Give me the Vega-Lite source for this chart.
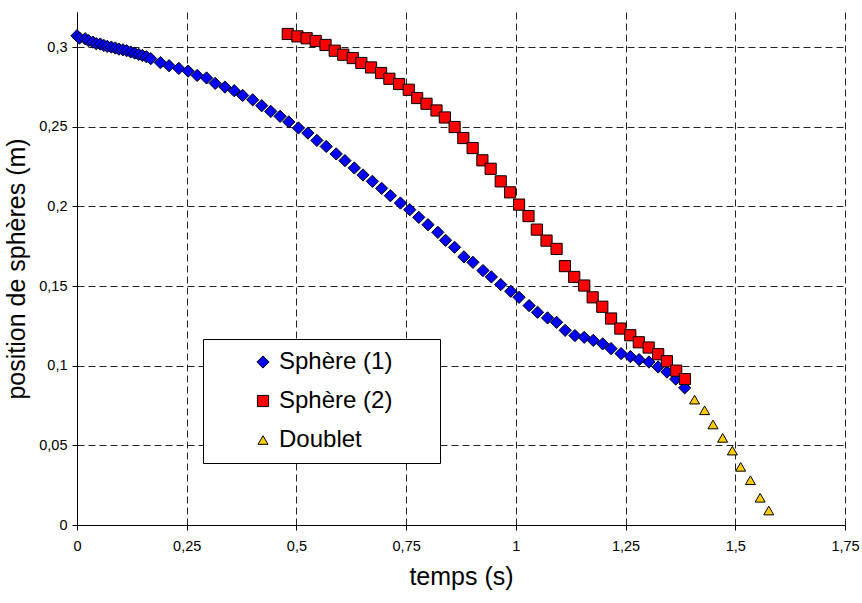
{
  "$schema": "https://vega.github.io/schema/vega-lite/v6.json",
  "autosize": {"type": "none"},
  "padding": {"left": 77, "top": 12, "right": 17, "bottom": 78},
  "width": 768,
  "height": 513,
  "background": "white",
  "config": {
    "font": "Liberation Sans",
    "view": {"stroke": null},
    "legend": {
      "labelFont": "Liberation Sans", "labelFontSize": 24, "labelColor": "black", "labelLimit": 400,
      "symbolStrokeColor": "black", "symbolStrokeWidth": 1, "symbolOpacity": 1, "symbolSize": 100
    }
  },
  "data": {
    "values": [
      {"s": "Sphère (1)", "t": 0.000, "v": 0.3071},
      {"s": "Sphère (1)", "t": 0.0057, "v": 0.3056},
      {"s": "Sphère (1)", "t": 0.0187, "v": 0.3052},
      {"s": "Sphère (1)", "t": 0.0263, "v": 0.3040},
      {"s": "Sphère (1)", "t": 0.0361, "v": 0.3031},
      {"s": "Sphère (1)", "t": 0.0439, "v": 0.3021},
      {"s": "Sphère (1)", "t": 0.0530, "v": 0.3019},
      {"s": "Sphère (1)", "t": 0.0612, "v": 0.3010},
      {"s": "Sphère (1)", "t": 0.0690, "v": 0.3004},
      {"s": "Sphère (1)", "t": 0.0782, "v": 0.3000},
      {"s": "Sphère (1)", "t": 0.0873, "v": 0.2994},
      {"s": "Sphère (1)", "t": 0.0955, "v": 0.2987},
      {"s": "Sphère (1)", "t": 0.1047, "v": 0.2983},
      {"s": "Sphère (1)", "t": 0.1131, "v": 0.2977},
      {"s": "Sphère (1)", "t": 0.1223, "v": 0.2969},
      {"s": "Sphère (1)", "t": 0.1314, "v": 0.2962},
      {"s": "Sphère (1)", "t": 0.1405, "v": 0.2954},
      {"s": "Sphère (1)", "t": 0.1490, "v": 0.2947},
      {"s": "Sphère (1)", "t": 0.1581, "v": 0.2939},
      {"s": "Sphère (1)", "t": 0.1680, "v": 0.2927},
      {"s": "Sphère (1)", "t": 0.1901, "v": 0.2902},
      {"s": "Sphère (1)", "t": 0.2098, "v": 0.2883},
      {"s": "Sphère (1)", "t": 0.2319, "v": 0.2866},
      {"s": "Sphère (1)", "t": 0.2532, "v": 0.2849},
      {"s": "Sphère (1)", "t": 0.2738, "v": 0.2822},
      {"s": "Sphère (1)", "t": 0.2952, "v": 0.2806},
      {"s": "Sphère (1)", "t": 0.3149, "v": 0.2772},
      {"s": "Sphère (1)", "t": 0.3371, "v": 0.2749},
      {"s": "Sphère (1)", "t": 0.3583, "v": 0.2726},
      {"s": "Sphère (1)", "t": 0.3775, "v": 0.2696},
      {"s": "Sphère (1)", "t": 0.4004, "v": 0.2669},
      {"s": "Sphère (1)", "t": 0.4209, "v": 0.2632},
      {"s": "Sphère (1)", "t": 0.4415, "v": 0.2596},
      {"s": "Sphère (1)", "t": 0.4628, "v": 0.2565},
      {"s": "Sphère (1)", "t": 0.4826, "v": 0.2530},
      {"s": "Sphère (1)", "t": 0.5046, "v": 0.2492},
      {"s": "Sphère (1)", "t": 0.5261, "v": 0.2460},
      {"s": "Sphère (1)", "t": 0.5466, "v": 0.2414},
      {"s": "Sphère (1)", "t": 0.5679, "v": 0.2376},
      {"s": "Sphère (1)", "t": 0.5907, "v": 0.2329},
      {"s": "Sphère (1)", "t": 0.6106, "v": 0.2287},
      {"s": "Sphère (1)", "t": 0.6319, "v": 0.2241},
      {"s": "Sphère (1)", "t": 0.6517, "v": 0.2197},
      {"s": "Sphère (1)", "t": 0.6730, "v": 0.2157},
      {"s": "Sphère (1)", "t": 0.6942, "v": 0.2113},
      {"s": "Sphère (1)", "t": 0.7141, "v": 0.2067},
      {"s": "Sphère (1)", "t": 0.7370, "v": 0.2021},
      {"s": "Sphère (1)", "t": 0.7582, "v": 0.1979},
      {"s": "Sphère (1)", "t": 0.7788, "v": 0.1931},
      {"s": "Sphère (1)", "t": 0.7998, "v": 0.1885},
      {"s": "Sphère (1)", "t": 0.8222, "v": 0.1837},
      {"s": "Sphère (1)", "t": 0.8398, "v": 0.1787},
      {"s": "Sphère (1)", "t": 0.8604, "v": 0.1743},
      {"s": "Sphère (1)", "t": 0.8816, "v": 0.1683},
      {"s": "Sphère (1)", "t": 0.9022, "v": 0.1649},
      {"s": "Sphère (1)", "t": 0.9251, "v": 0.1597},
      {"s": "Sphère (1)", "t": 0.9442, "v": 0.1557},
      {"s": "Sphère (1)", "t": 0.9655, "v": 0.1509},
      {"s": "Sphère (1)", "t": 0.9884, "v": 0.1467},
      {"s": "Sphère (1)", "t": 1.0073, "v": 0.1429},
      {"s": "Sphère (1)", "t": 1.0302, "v": 0.1377},
      {"s": "Sphère (1)", "t": 1.0494, "v": 0.1335},
      {"s": "Sphère (1)", "t": 1.0722, "v": 0.1300},
      {"s": "Sphère (1)", "t": 1.0928, "v": 0.1272},
      {"s": "Sphère (1)", "t": 1.1124, "v": 0.1222},
      {"s": "Sphère (1)", "t": 1.1346, "v": 0.1189},
      {"s": "Sphère (1)", "t": 1.1558, "v": 0.1178},
      {"s": "Sphère (1)", "t": 1.1764, "v": 0.1159},
      {"s": "Sphère (1)", "t": 1.1979, "v": 0.1137},
      {"s": "Sphère (1)", "t": 1.2169, "v": 0.1107},
      {"s": "Sphère (1)", "t": 1.2397, "v": 0.1076},
      {"s": "Sphère (1)", "t": 1.2610, "v": 0.1057},
      {"s": "Sphère (1)", "t": 1.2809, "v": 0.1038},
      {"s": "Sphère (1)", "t": 1.3033, "v": 0.1023},
      {"s": "Sphère (1)", "t": 1.3243, "v": 0.0992},
      {"s": "Sphère (1)", "t": 1.3444, "v": 0.0960},
      {"s": "Sphère (1)", "t": 1.3643, "v": 0.0916},
      {"s": "Sphère (1)", "t": 1.3848, "v": 0.0861},
      {"s": "Sphère (2)", "t": 0.4803, "v": 0.3082},
      {"s": "Sphère (2)", "t": 0.5023, "v": 0.3067},
      {"s": "Sphère (2)", "t": 0.5233, "v": 0.3055},
      {"s": "Sphère (2)", "t": 0.5439, "v": 0.3038},
      {"s": "Sphère (2)", "t": 0.5663, "v": 0.3013},
      {"s": "Sphère (2)", "t": 0.5873, "v": 0.2977},
      {"s": "Sphère (2)", "t": 0.6067, "v": 0.2952},
      {"s": "Sphère (2)", "t": 0.6284, "v": 0.2931},
      {"s": "Sphère (2)", "t": 0.6479, "v": 0.2900},
      {"s": "Sphère (2)", "t": 0.6700, "v": 0.2872},
      {"s": "Sphère (2)", "t": 0.6929, "v": 0.2837},
      {"s": "Sphère (2)", "t": 0.7118, "v": 0.2801},
      {"s": "Sphère (2)", "t": 0.7340, "v": 0.2768},
      {"s": "Sphère (2)", "t": 0.7559, "v": 0.2732},
      {"s": "Sphère (2)", "t": 0.7751, "v": 0.2680},
      {"s": "Sphère (2)", "t": 0.7964, "v": 0.2644},
      {"s": "Sphère (2)", "t": 0.8192, "v": 0.2602},
      {"s": "Sphère (2)", "t": 0.8382, "v": 0.2558},
      {"s": "Sphère (2)", "t": 0.8604, "v": 0.2498},
      {"s": "Sphère (2)", "t": 0.8803, "v": 0.2429},
      {"s": "Sphère (2)", "t": 0.9015, "v": 0.2366},
      {"s": "Sphère (2)", "t": 0.9237, "v": 0.2289},
      {"s": "Sphère (2)", "t": 0.9426, "v": 0.2236},
      {"s": "Sphère (2)", "t": 0.9655, "v": 0.2157},
      {"s": "Sphère (2)", "t": 0.9868, "v": 0.2088},
      {"s": "Sphère (2)", "t": 1.0073, "v": 0.2011},
      {"s": "Sphère (2)", "t": 1.0288, "v": 0.1939},
      {"s": "Sphère (2)", "t": 1.0478, "v": 0.1854},
      {"s": "Sphère (2)", "t": 1.0699, "v": 0.1785},
      {"s": "Sphère (2)", "t": 1.0928, "v": 0.1733},
      {"s": "Sphère (2)", "t": 1.1118, "v": 0.1625},
      {"s": "Sphère (2)", "t": 1.1330, "v": 0.1557},
      {"s": "Sphère (2)", "t": 1.1558, "v": 0.1503},
      {"s": "Sphère (2)", "t": 1.1750, "v": 0.1429},
      {"s": "Sphère (2)", "t": 1.1970, "v": 0.1370},
      {"s": "Sphère (2)", "t": 1.2169, "v": 0.1296},
      {"s": "Sphère (2)", "t": 1.2381, "v": 0.1233},
      {"s": "Sphère (2)", "t": 1.2607, "v": 0.1191},
      {"s": "Sphère (2)", "t": 1.2802, "v": 0.1147},
      {"s": "Sphère (2)", "t": 1.3026, "v": 0.1114},
      {"s": "Sphère (2)", "t": 1.3243, "v": 0.1072},
      {"s": "Sphère (2)", "t": 1.3442, "v": 0.1028},
      {"s": "Sphère (2)", "t": 1.3654, "v": 0.0969},
      {"s": "Sphère (2)", "t": 1.3853, "v": 0.0916},
      {"s": "Doublet", "t": 1.4072, "v": 0.0787},
      {"s": "Doublet", "t": 1.4301, "v": 0.0720},
      {"s": "Doublet", "t": 1.4493, "v": 0.0631},
      {"s": "Doublet", "t": 1.4712, "v": 0.0547},
      {"s": "Doublet", "t": 1.4934, "v": 0.0467},
      {"s": "Doublet", "t": 1.5123, "v": 0.0365},
      {"s": "Doublet", "t": 1.5345, "v": 0.0281},
      {"s": "Doublet", "t": 1.5567, "v": 0.0171},
      {"s": "Doublet", "t": 1.5763, "v": 0.0091}
    ]
  },
  "mark": {"type": "point", "filled": true, "opacity": 1, "stroke": "black", "strokeWidth": 1},
  "encoding": {
    "x": {
      "field": "t", "type": "quantitative",
      "scale": {"domain": [0, 1.75], "nice": false, "zero": false},
      "axis": {
        "title": "temps (s)",
        "values": [0, 0.25, 0.5, 0.75, 1, 1.25, 1.5, 1.75],
        "labelExpr": "replace(format(datum.value, '~g'), '.', ',')",
        "labelFont": "Liberation Sans", "labelFontSize": 14.5, "labelColor": "black", "labelPadding": 9,
        "titleFont": "Liberation Sans", "titleFontSize": 25, "titleFontWeight": "normal", "titleColor": "black", "titlePadding": 12,
        "domainColor": "black", "domainWidth": 1,
        "tickColor": "black", "tickSize": 5,
        "grid": true, "gridColor": "#222222", "gridDash": [7, 4], "gridWidth": 1,
        "labelFlush": false
      }
    },
    "y": {
      "field": "v", "type": "quantitative",
      "scale": {"domain": [0, 0.322], "nice": false, "zero": false},
      "axis": {
        "title": "position de sphères (m)",
        "values": [0, 0.05, 0.1, 0.15, 0.2, 0.25, 0.3],
        "labelExpr": "replace(format(datum.value, '~g'), '.', ',')",
        "labelFont": "Liberation Sans", "labelFontSize": 14.5, "labelColor": "black", "labelPadding": 5,
        "titleFont": "Liberation Sans", "titleFontSize": 25, "titleFontWeight": "normal", "titleColor": "black", "titlePadding": 9,
        "domainColor": "black", "domainWidth": 1,
        "tickColor": "black", "tickSize": 5,
        "grid": true, "gridColor": "#222222", "gridDash": [7, 4], "gridWidth": 1,
        "labelFlush": false
      }
    },
    "size": {
      "field": "s", "type": "nominal",
      "scale": {"domain": ["Sphère (1)", "Sphère (2)", "Doublet"], "range": [150, 100, 140]},
      "legend": null
    },
    "color": {
      "field": "s", "type": "nominal",
      "scale": {"domain": ["Sphère (1)", "Sphère (2)", "Doublet"], "range": ["#0000FF", "#FF0000", "#FFCC00"]},
      "legend": {
        "title": null,
        "orient": "none", "legendX": 126, "legendY": 327,
        "strokeColor": "black", "fillColor": "white", "padding": 11,
        "labelFontSize": 24, "labelLimit": 400,
        "labelExpr": "datum.label + '\u2800\u2800'",
        "labelOffset": 4, "symbolOffset": 37, "rowPadding": 15,
        "symbolSize": 100, "symbolStrokeColor": "black", "symbolStrokeWidth": 1, "symbolOpacity": 1,
        "encode": {"symbols": {"update": {"stroke": {"value": "black"}, "strokeWidth": {"value": 1}, "size": {"value": 100}}}}
      }
    },
    "shape": {
      "field": "s", "type": "nominal",
      "scale": {"domain": ["Sphère (1)", "Sphère (2)", "Doublet"], "range": ["diamond", "square", "triangle-up"]},
      "legend": {
        "title": null,
        "orient": "none", "legendX": 126, "legendY": 327,
        "strokeColor": "black", "fillColor": "white", "padding": 11,
        "labelFontSize": 24, "labelLimit": 400,
        "labelExpr": "datum.label + '\u2800\u2800'",
        "labelOffset": 4, "symbolOffset": 37, "rowPadding": 15,
        "symbolSize": 100, "symbolStrokeColor": "black", "symbolStrokeWidth": 1, "symbolOpacity": 1,
        "encode": {"symbols": {"update": {"stroke": {"value": "black"}, "strokeWidth": {"value": 1}, "size": {"value": 100}}}}
      }
    }
  }
}
